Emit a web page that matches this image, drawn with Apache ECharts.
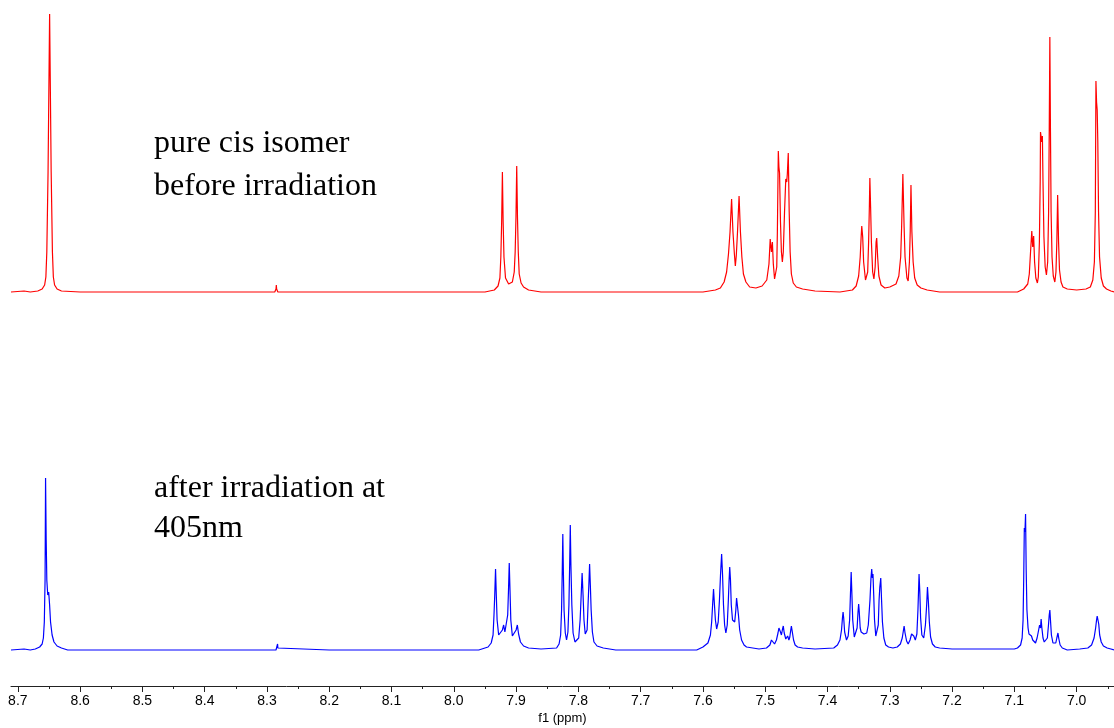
<!DOCTYPE html>
<html>
<head>
<meta charset="utf-8">
<script src="https://cdn.jsdelivr.net/npm/echarts@6/dist/echarts.min.js"></script>
<style>html,body{margin:0;padding:0;background:#fff;}#chart{width:1114px;height:728px;}</style>
</head>
<body>
<div id="chart"></div>
<script>
// Chemical shift range (ppm), shown reversed
const ppmMin = 6.94;
const ppmMax = 8.711;

// Major tick labels (ppm)
const tickLabels = ['8.7','8.6','8.5','8.4','8.3','8.2','8.1','8.0','7.9','7.8','7.7','7.6','7.5','7.4','7.3','7.2','7.1','7.0'];
// Minor ticks (ppm)
const minorTicks = [8.65,8.55,8.45,8.35,8.25,8.15,8.05,7.95,7.85,7.75,7.65,7.55,7.45,7.35,7.25,7.15,7.05,6.95];

// Annotations
const topLabel = ['pure cis isomer', 'before irradiation'];
const bottomLabel = ['after irradiation at', '405nm'];

// Red spectrum: pure cis isomer before irradiation  [ppm, intensity]
const redSpectrum = [
[8.711,0],[8.690,1],[8.680,0],
[8.668,1],[8.661,3],[8.657,7],[8.655,15],[8.6535,40],[8.6515,120],[8.649,278],[8.6465,120],[8.6445,40],[8.643,15],[8.641,7],[8.637,3],[8.630,1],
[8.60,0],[8.50,0],[8.40,0],
[8.2875,0],[8.2855,3],[8.285,7],[8.2845,3],[8.2825,0],
[8.20,0],[8.10,0],[8.00,0],[7.95,0],
[7.935,2],[7.929,6],[7.926,14],[7.9245,35],[7.9232,70],[7.922,120],[7.9208,70],[7.9195,35],[7.917,14],[7.912,8],[7.9105,7],[7.906,10],[7.903,20],[7.9015,40],[7.9002,75],[7.899,126],[7.8978,75],[7.8965,40],[7.895,18],[7.892,9],[7.888,5],[7.880,2],[7.86,0],
[7.80,0],[7.70,0],[7.60,0],
[7.58,2],[7.572,4],[7.566,10],[7.562,20],[7.559,38],[7.5565,60],[7.554,93],[7.5518,60],[7.5495,38],[7.548,26],[7.5465,36],[7.5445,60],[7.542,96],[7.5398,60],[7.5375,35],[7.535,18],[7.531,10],[7.525,5],[7.515,4],[7.505,6],
[7.4975,12],[7.494,28],[7.492,53],[7.490,40],[7.4885,50],[7.487,28],[7.485,13],[7.483,12],[7.4815,25],[7.4805,60],[7.479,141],[7.478,125],[7.477,119],[7.4755,70],[7.474,40],[7.4725,30],[7.471,40],[7.469,80],[7.467,113],[7.4655,110],[7.4645,118],[7.463,139],[7.4615,80],[7.460,40],[7.458,18],[7.455,9],[7.450,5],[7.44,3],[7.42,1],[7.38,0],
[7.36,2],[7.354,6],[7.350,16],[7.3475,35],[7.346,55],[7.345,66],[7.3435,55],[7.342,30],[7.339,12],[7.337,10],[7.3355,20],[7.334,50],[7.3328,85],[7.332,114],[7.3308,85],[7.3295,50],[7.3275,20],[7.3255,13],[7.3235,25],[7.322,50],[7.321,54],[7.3195,35],[7.3175,16],[7.314,7],[7.308,4],[7.30,5],
[7.290,8],[7.2855,16],[7.2825,35],[7.281,65],[7.279,118],[7.277,65],[7.2755,35],[7.2725,14],[7.2705,11],[7.2685,30],[7.2672,60],[7.266,107],[7.2645,60],[7.2625,30],[7.260,14],[7.256,7],[7.25,4],[7.24,2],[7.22,0],
[7.15,0],[7.10,0],
[7.095,0],[7.085,3],[7.0785,8],[7.076,18],[7.074,40],[7.072,61],[7.0705,45],[7.069,56],[7.0675,30],[7.0655,14],[7.063,9],[7.0615,15],[7.0598,50],[7.0585,110],[7.058,160],[7.056,150],[7.055,156],[7.054,110],[7.0525,55],[7.0505,25],[7.0485,17],[7.0465,30],[7.045,80],[7.044,160],[7.043,255],[7.042,160],[7.041,80],[7.0395,35],[7.0375,16],[7.035,10],[7.0332,20],[7.0318,50],[7.0305,97],[7.029,50],[7.0275,22],[7.025,10],[7.022,5],[7.015,3],[7.0,2],
[6.985,3],[6.978,5],[6.974,12],[6.9715,30],[6.970,80],[6.969,211],[6.968,190],[6.967,182],[6.966,150],[6.9648,80],[6.9632,35],[6.9605,14],[6.957,6],[6.952,3],[6.945,1],[6.94,0]
];

// Blue spectrum: after irradiation at 405 nm  [ppm, intensity]
const blueSpectrum = [
[8.711,0],[8.690,1],[8.680,0],
[8.672,1],[8.665,3],[8.661,6],[8.659,12],[8.6575,28],[8.6563,70],[8.6555,172],[8.6545,110],[8.6535,70],[8.652,55],[8.6505,58],[8.649,45],[8.6475,28],[8.645,15],[8.642,8],[8.637,4],[8.630,2],[8.62,0],
[8.60,0],[8.50,0],[8.40,0],
[8.2855,0],[8.2835,2],[8.283,6],[8.2825,2],[8.2805,0],
[8.20,0],[8.10,0],[8.00,0],[7.96,0],
[7.945,3],[7.940,7],[7.937,15],[7.9355,35],[7.9343,55],[7.933,81],[7.9318,55],[7.9305,30],[7.928,15],[7.9255,13],[7.922,20],[7.920,25],[7.918,18],[7.9155,16],[7.9135,35],[7.9122,60],[7.911,87],[7.9098,60],[7.9085,30],[7.906,14],[7.903,13],[7.900,20],[7.898,25],[7.896,16],[7.893,8],[7.888,4],[7.88,2],[7.86,1],
[7.835,2],[7.831,6],[7.8285,15],[7.827,40],[7.826,75],[7.825,116],[7.824,75],[7.823,40],[7.821,17],[7.819,10],[7.8168,18],[7.8152,45],[7.814,85],[7.813,125],[7.812,85],[7.8105,45],[7.8085,17],[7.8055,8],[7.8025,7],[7.7995,12],[7.7972,30],[7.7955,55],[7.794,77],[7.7925,55],[7.791,30],[7.789,16],[7.7875,14],[7.786,20],[7.7845,45],[7.7832,65],[7.782,86],[7.7808,65],[7.7795,40],[7.7775,18],[7.775,8],[7.770,4],[7.76,2],[7.74,0],
[7.70,0],[7.65,0],[7.61,0],
[7.60,3],[7.592,7],[7.588,15],[7.586,28],[7.5845,45],[7.583,61],[7.5815,45],[7.58,30],[7.578,21],[7.5755,28],[7.5735,50],[7.5718,75],[7.570,96],[7.5685,75],[7.567,45],[7.5652,25],[7.5632,17],[7.561,25],[7.5592,50],[7.558,70],[7.557,83],[7.5558,70],[7.5545,45],[7.5525,30],[7.551,30],[7.549,28],[7.5472,40],[7.546,52],[7.5448,50],[7.543,35],[7.541,20],[7.538,10],[7.534,5],[7.530,3],[7.51,1],[7.498,2],
[7.4925,5],[7.490,10],[7.489,11],[7.4875,8],[7.485,6],[7.482,10],[7.4795,17],[7.478,22],[7.477,23],[7.4755,18],[7.474,15],[7.4725,20],[7.471,24],[7.4695,17],[7.467,11],[7.4655,12],[7.464,14],[7.462,10],[7.4605,13],[7.459,20],[7.458,24],[7.4565,18],[7.4545,10],[7.452,5],[7.448,3],[7.44,2],[7.42,1],[7.39,2],
[7.384,5],[7.380,10],[7.3775,20],[7.376,32],[7.375,38],[7.374,32],[7.3725,18],[7.3695,10],[7.3668,14],[7.3645,30],[7.3632,55],[7.362,78],[7.3608,55],[7.3595,30],[7.357,13],[7.3545,12],[7.3525,22],[7.351,38],[7.350,46],[7.349,38],[7.3475,22],[7.346,18],[7.344,19],[7.3415,16],[7.339,18],[7.337,17],[7.3345,25],[7.3318,50],[7.3302,72],[7.329,81],[7.328,72],[7.327,76],[7.3258,55],[7.3245,30],[7.3225,14],[7.3205,13],[7.3185,25],[7.3172,50],[7.316,63],[7.3152,62],[7.3145,72],[7.3132,50],[7.3118,28],[7.3095,12],[7.3065,5],[7.302,3],[7.295,2],
[7.288,3],[7.283,6],[7.280,12],[7.2785,18],[7.277,24],[7.2755,17],[7.273,9],[7.2705,6],[7.2675,10],[7.265,16],[7.263,18],[7.2615,14],[7.259,10],[7.2565,16],[7.2548,40],[7.2538,60],[7.253,76],[7.2518,58],[7.2505,32],[7.2485,15],[7.2455,12],[7.2428,25],[7.2408,45],[7.2395,63],[7.238,48],[7.2365,28],[7.2345,13],[7.2315,6],[7.227,3],[7.22,2],[7.20,1],
[7.15,1],[7.10,1],
[7.095,2],[7.090,5],[7.0875,12],[7.086,30],[7.085,70],[7.084,122],[7.083,118],[7.082,136],[7.081,80],[7.0798,40],[7.078,22],[7.0765,16],[7.075,15],[7.0735,15],[7.0725,14],[7.0705,10],[7.0685,8],[7.066,7],[7.0635,12],[7.061,20],[7.0595,25],[7.058,22],[7.057,31],[7.0558,22],[7.054,12],[7.052,8],[7.0495,6],[7.047,12],[7.0452,25],[7.044,35],[7.043,40],[7.042,30],[7.0405,15],[7.038,7],[7.0355,5],[7.0335,7],[7.0318,12],[7.030,17],[7.0285,11],[7.0265,5],[7.023,2],[7.015,0],
[6.995,1],[6.982,2],[6.976,5],[6.972,12],[6.9695,22],[6.968,30],[6.967,34],[6.966,35],[6.9645,26],[6.963,15],[6.9605,8],[6.957,4],[6.951,2],[6.945,1],[6.94,0]
];

const chart = echarts.init(document.getElementById('chart'), null, {renderer: 'canvas'});
const majorValues = tickLabels.map(Number);
const axisFont = '"Liberation Sans", Arial, sans-serif';
const serifFont = '"Liberation Serif", "Times New Roman", serif';

const option = {
  animation: false,
  backgroundColor: '#ffffff',
  grid: [
    {left: 11, right: 0, top: 12, height: 285, containLabel: false},
    {left: 11, right: 0, top: 470, height: 216, containLabel: false}
  ],
  xAxis: [
    {gridIndex: 0, type: 'value', min: ppmMin, max: ppmMax, inverse: true, show: false},
    {
      gridIndex: 1, type: 'value', min: ppmMin, max: ppmMax, inverse: true, position: 'bottom',
      name: 'f1 (ppm)', nameLocation: 'middle', nameGap: 26,
      nameTextStyle: {fontFamily: axisFont, fontSize: 13, color: '#000'},
      axisLine: {show: true, onZero: false, lineStyle: {color: '#222', width: 1}},
      axisTick: {show: true, inside: false, length: 6, lineStyle: {color: '#222'}, customValues: majorValues},
      axisLabel: {show: true, margin: 8, fontFamily: axisFont, fontSize: 14, color: '#000',
        customValues: majorValues, formatter: v => v.toFixed(1)},
      splitLine: {show: false}
    },
    {
      gridIndex: 1, type: 'value', min: ppmMin, max: ppmMax, inverse: true, position: 'bottom',
      axisLine: {show: false, onZero: false},
      axisTick: {show: true, inside: false, length: 3, lineStyle: {color: '#222'}, customValues: minorTicks},
      axisLabel: {show: false},
      splitLine: {show: false}
    }
  ],
  yAxis: [
    {gridIndex: 0, type: 'value', min: -5, max: 280, show: false},
    {gridIndex: 1, type: 'value', min: -36, max: 180, show: false}
  ],
  series: [
    {type: 'line', xAxisIndex: 0, yAxisIndex: 0, data: redSpectrum, showSymbol: false, symbol: 'none',
      lineStyle: {color: '#ff0000', width: 1.2}, itemStyle: {color: '#ff0000'}, silent: true},
    {type: 'line', xAxisIndex: 1, yAxisIndex: 1, data: blueSpectrum, showSymbol: false, symbol: 'none',
      lineStyle: {color: '#0000ff', width: 1.2}, itemStyle: {color: '#0000ff'}, silent: true}
  ],
  graphic: [
    {type: 'text', x: 154, y: 144, style: {text: topLabel[0], font: '32px ' + serifFont, fill: '#000', verticalAlign: 'middle'}},
    {type: 'text', x: 154, y: 187, style: {text: topLabel[1], font: '32px ' + serifFont, fill: '#000', verticalAlign: 'middle'}},
    {type: 'text', x: 154, y: 489, style: {text: bottomLabel[0], font: '32px ' + serifFont, fill: '#000', verticalAlign: 'middle'}},
    {type: 'text', x: 154, y: 529, style: {text: bottomLabel[1], font: '32px ' + serifFont, fill: '#000', verticalAlign: 'middle'}}
  ]
};
chart.setOption(option);
</script>
</body>
</html>
